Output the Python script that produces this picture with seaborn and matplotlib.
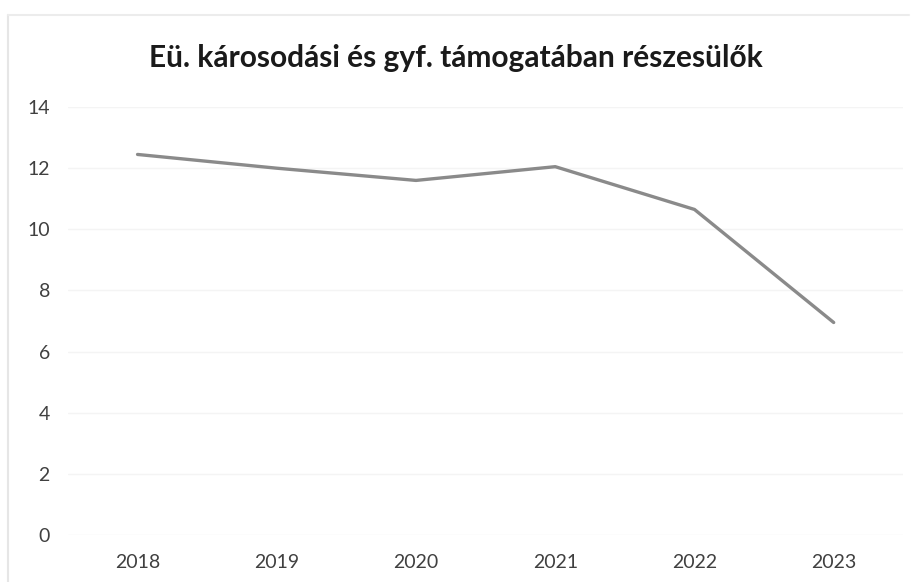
import pandas as pd
import matplotlib.pyplot as plt
import seaborn as sns

# Adatok
evek = ['2018', '2019', '2020', '2021', '2022', '2023']
ertekek = [12.45, 12.0, 11.6, 12.05, 10.65, 6.95]
y_ticks = [0, 2, 4, 6, 8, 10, 12, 14]
cim = 'Eü. károsodási és gyf. támogatában részesülők'

df = pd.DataFrame({'ev': evek, 'ertek': ertekek})

sns.set_theme(style='white')
plt.rcParams['font.family'] = ['Lato', 'DejaVu Sans']

fig = plt.figure(figsize=(9.18, 5.82), dpi=100)
ax = fig.add_axes([0.074, 0.081, 0.910, 0.735])

sns.lineplot(data=df, x='ev', y='ertek', color='#8a8a8a', linewidth=2.4, ax=ax, sort=False)

ax.set_xlim(-0.5, len(evek) - 0.5)
ax.set_ylim(0, 14)
ax.set_yticks(y_ticks)
ax.yaxis.grid(True, color='#f4f4f4', linewidth=1)
ax.set_xlabel('')
ax.set_ylabel('')
for s in ax.spines.values():
    s.set_visible(False)
ax.tick_params(axis='both', length=0, labelsize=14, colors='#404040')
ax.tick_params(axis='y', pad=13)
ax.tick_params(axis='x', pad=14)

# halvány keret a diagram körül (szkennelt kép széle)
fig.add_artist(plt.Line2D([0.009, 0.009], [0.0, 0.975], color='#e6e6e6', linewidth=1.5))
fig.add_artist(plt.Line2D([0.009, 0.99], [0.975, 0.975], color='#ececec', linewidth=1.5))

fig.text(0.497, 0.90, cim, ha='center', va='center', fontsize=21.5, fontweight='bold', color='#1a1a1a')

fig.savefig('out.png', dpi=100)
